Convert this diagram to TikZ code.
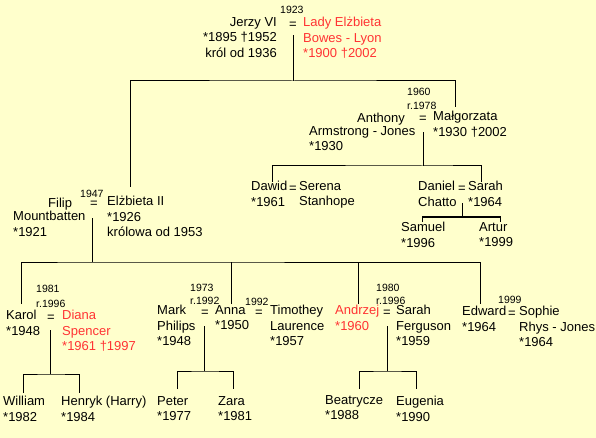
\documentclass[tikz,border=0pt]{standalone}
\usepackage{fontspec}
\setmainfont{Liberation Sans}
\definecolor{tlo}{HTML}{FFFFCC}
\definecolor{czerwony}{HTML}{FF3333}
\tikzset{
  osoba/.style={anchor=north west, yshift=10.85pt, execute at begin node=\strut,
    align=left, inner sep=0pt, font=\fontsize{13}{15.5}\selectfont},
  osobaR/.style={osoba, anchor=north east, align=right},
  rok/.style={anchor=base west, inner sep=0pt, font=\fontsize{10.5}{13}\selectfont},
  krol/.style={text=czerwony},
  linia/.style={line width=1pt},
  para/.style={linia, shorten <=#1},
}
\begin{document}
\begin{tikzpicture}[x=1pt, y=-1pt]
\fill[tlo] (0,0) rectangle (596,438);
\useasboundingbox (0,0) rectangle (596,438);

% Jerzy VI i Elzbieta
\node[osobaR] (jerzy) at (277,28) {Jerzy VI\\*1895 †1952\\król od 1936};
\node[rok] (r1923) at (280,14) {1923};
\node[osoba] (eq1) at (289,28) {=};
\node[osoba, krol] (lady) at (303,28) {Lady Elżbieta\\Bowes - Lyon\\*1900 †2002};

% Malgorzata
\node[rok] (r1960) at (407,96) {1960};
\node[rok] (r1978) at (407,110) {r.1978};
\node[osoba] (anthony) at (357,122) {Anthony};
\node[osoba] (armstrong) at (309,137) {Armstrong - Jones\\*1930};
\node[osoba] (eq2) at (419,122) {=};
\node[osoba] (malg) at (433,122) {Małgorzata\\*1930 †2002};

\node[osoba] (dawid) at (251,192) {Dawid\\*1961};
\node[osoba] (eq3) at (289,192) {=};
\node[osoba] (serena) at (299,192) {Serena\\Stanhope};
\node[osoba] (daniel) at (418,192) {Daniel\\Chatto};
\node[osoba] (eq4) at (458,192) {=};
\node[osoba] (sarahC) at (468,192) {Sarah\\*1964};
\node[osoba] (samuel) at (401,233) {Samuel\\*1996};
\node[osoba] (artur) at (479,233) {Artur\\*1999};

% Elzbieta II
\node[rok] (r1947) at (80,197) {1947};
\node[osoba] (filip) at (48,207) {Filip};
\node[osoba] (mountbatten) at (13,222) {Mountbatten\\*1921};
\node[osoba] (eq5) at (90,207) {=};
\node[osoba] (elzb) at (107,207) {Elżbieta II\\*1926\\królowa od 1953};

% Karol
\node[rok] (r1981) at (36,292) {1981};
\node[rok] (r1996a) at (36,307) {r.1996};
\node[osoba] (karol) at (6,321) {Karol\\*1948};
\node[osoba] (eq6) at (47,321) {=};
\node[osoba, krol] (diana) at (62,321) {Diana\\Spencer\\*1961 †1997};
\node[osoba] (william) at (3,407) {William\\*1982};
\node[osoba] (henryk) at (61,407) {Henryk (Harry)\\*1984};

% Anna
\node[rok] (r1973) at (190,291) {1973};
\node[rok] (r1992a) at (190,304) {r.1992};
\node[osoba] (mark) at (157,316) {Mark\\Philips\\*1948};
\node[osoba] (eq7) at (201,316) {=};
\node[osoba] (anna) at (215,316) {Anna\\*1950};
\node[rok] (r1992b) at (245,305) {1992};
\node[osoba] (eq8) at (255,316) {=};
\node[osoba] (timothey) at (270,316) {Timothey\\Laurence\\*1957};
\node[osoba] (peter) at (157,407) {Peter\\*1977};
\node[osoba] (zara) at (218,407) {Zara\\*1981};

% Andrzej
\node[rok] (r1980) at (376,291) {1980};
\node[rok] (r1996b) at (376,304) {r.1996};
\node[osoba, krol] (andrzej) at (335,316) {Andrzej\\*1960};
\node[osoba] (eq9) at (383,316) {=};
\node[osoba] (sarahF) at (396,316) {Sarah\\Ferguson\\*1959};
\node[osoba] (beatrycze) at (325,406) {Beatrycze\\*1988};
\node[osoba] (eugenia) at (396,407) {Eugenia\\*1990};

% Edward
\node[rok] (r1999) at (498,303) {1999};
\node[osoba] (edward) at (462,317) {Edward\\*1964};
\node[osoba] (eq10) at (508,317) {=};
\node[osoba] (sophie) at (519,317) {Sophie\\Rhys - Jones\\*1964};

% linie
\coordinate (j1) at (eq1.center |- 0,81);
\coordinate (k1a) at (130,187);
\coordinate (k1b) at (455,107);
\draw[para=10pt] (eq1.center) -- (j1);
\draw[linia] (k1a) |- (j1) -| (k1b);

\coordinate (j2) at (eq2.center |- 0,166);
\coordinate (k2a) at (272,182);
\coordinate (k2b) at (481,182);
\draw[para=13pt] (eq2.center) -- (j2);
\draw[linia] (k2a) |- (j2) -| (k2b);

\coordinate (j3) at (eq4.center |- 0,217);
\coordinate (k3a) at (422,222);
\coordinate (k3b) at (500,222);
\draw[para=14pt] (eq4.center) -- (j3);
\draw[linia] (k3a) |- (j3) -| (k3b);

\coordinate (j4) at ([xshift=-1.5pt]eq5.center |- 0,262);
\coordinate (k4a) at (21,304);
\coordinate (k4b) at (231,304);
\coordinate (k4c) at (358,304);
\coordinate (k4d) at (480,304);
\draw[para=14pt] ([xshift=-1.5pt]eq5.center) -- (j4);
\draw[linia] (k4a) |- (j4) -| (k4d);
\draw[linia] (k4b) -- (k4b |- j4);
\draw[linia] (k4c) -- (k4c |- j4);

\coordinate (j5) at (eq6.center |- 0,374);
\coordinate (k5a) at (23,393);
\coordinate (k5b) at (79,393);
\draw[para=12pt] (eq6.center) -- (j5);
\draw[linia] (k5a) |- (j5) -| (k5b);

\coordinate (j6) at (eq7.center |- 0,371);
\coordinate (k6a) at (177,389);
\coordinate (k6b) at (233,389);
\draw[para=13pt] (eq7.center) -- (j6);
\draw[linia] (k6a) |- (j6) -| (k6b);

\coordinate (j7) at (eq9.center |- 0,371);
\coordinate (k7a) at (359,389);
\coordinate (k7b) at (416,389);
\draw[para=13pt] (eq9.center) -- (j7);
\draw[linia] (k7a) |- (j7) -| (k7b);
\end{tikzpicture}
\end{document}
